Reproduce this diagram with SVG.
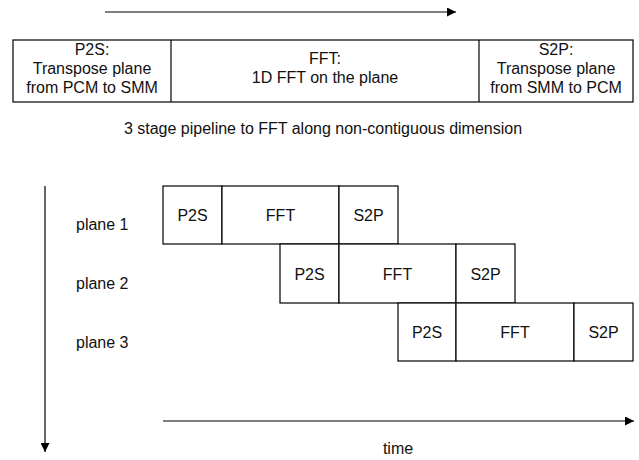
<svg xmlns="http://www.w3.org/2000/svg" width="639" height="460" viewBox="0 0 639 460">
  <style>
    .box { fill: #fff; stroke: #000; stroke-width: 1.2; }
    .t { font-family: "Liberation Sans", Arial, sans-serif; font-size: 16px; fill: #111; text-anchor: middle; }
    .lbl { font-family: "Liberation Sans", Arial, sans-serif; font-size: 16px; fill: #111; }
    .arrow { stroke: #000; stroke-width: 1.2; fill: none; marker-end: url(#head); }
  </style>
  <defs>
    <marker id="head" viewBox="0 0 10 10" refX="10" refY="5" markerWidth="11" markerHeight="9" markerUnits="userSpaceOnUse" orient="auto">
      <path d="M0,0 L10,5 L0,10 z" fill="#000"/>
    </marker>
  </defs>

  <!-- stage legend -->
  <g id="legend">
    <rect class="box" x="13" y="40" width="620" height="62"/>
    <line x1="171" y1="40" x2="171" y2="102" stroke="#000" stroke-width="1.2"/>
    <line x1="479" y1="40" x2="479" y2="102" stroke="#000" stroke-width="1.2"/>
    <text class="t" x="92" y="55">P2S:</text>
    <text class="t" x="92" y="74">Transpose plane</text>
    <text class="t" x="92" y="93">from PCM to SMM</text>
    <text class="t" x="325" y="64">FFT:</text>
    <text class="t" x="325" y="83">1D FFT on the plane</text>
    <text class="t" x="556" y="55">S2P:</text>
    <text class="t" x="556" y="74">Transpose plane</text>
    <text class="t" x="556" y="93">from SMM to PCM</text>
  </g>
  <text class="t" x="323" y="134">3 stage pipeline to FFT along non-contiguous dimension</text>

  <!-- plane 1 -->
  <g id="plane1">
    <rect class="box" x="163" y="186" width="59" height="58"/>
    <rect class="box" x="222" y="186" width="117" height="58"/>
    <rect class="box" x="339" y="186" width="59" height="58"/>
    <text class="t" x="192.5" y="221">P2S</text>
    <text class="t" x="280.5" y="221">FFT</text>
    <text class="t" x="368.5" y="221">S2P</text>
  </g>
  <!-- plane 2 -->
  <g id="plane2">
    <rect class="box" x="280" y="244" width="59" height="59"/>
    <rect class="box" x="339" y="244" width="117" height="59"/>
    <rect class="box" x="456" y="244" width="59" height="59"/>
    <text class="t" x="309.5" y="280">P2S</text>
    <text class="t" x="397.5" y="280">FFT</text>
    <text class="t" x="485.5" y="280">S2P</text>
  </g>
  <!-- plane 3 -->
  <g id="plane3">
    <rect class="box" x="398" y="303" width="58" height="58"/>
    <rect class="box" x="456" y="303" width="118" height="58"/>
    <rect class="box" x="574" y="303" width="59" height="58"/>
    <text class="t" x="427" y="338">P2S</text>
    <text class="t" x="515" y="338">FFT</text>
    <text class="t" x="603.5" y="338">S2P</text>
  </g>

  <g id="labels">
    <text class="lbl" x="76" y="230">plane 1</text>
    <text class="lbl" x="76" y="289">plane 2</text>
    <text class="lbl" x="76" y="348">plane 3</text>
    <text class="t" x="398" y="454">time</text>
  </g>

  <g id="connectors">
    <line class="arrow" x1="105" y1="12" x2="456" y2="12"/>
    <line class="arrow" x1="45" y1="186" x2="45" y2="452"/>
    <line class="arrow" x1="163" y1="421" x2="634" y2="421"/>
  </g>
</svg>
